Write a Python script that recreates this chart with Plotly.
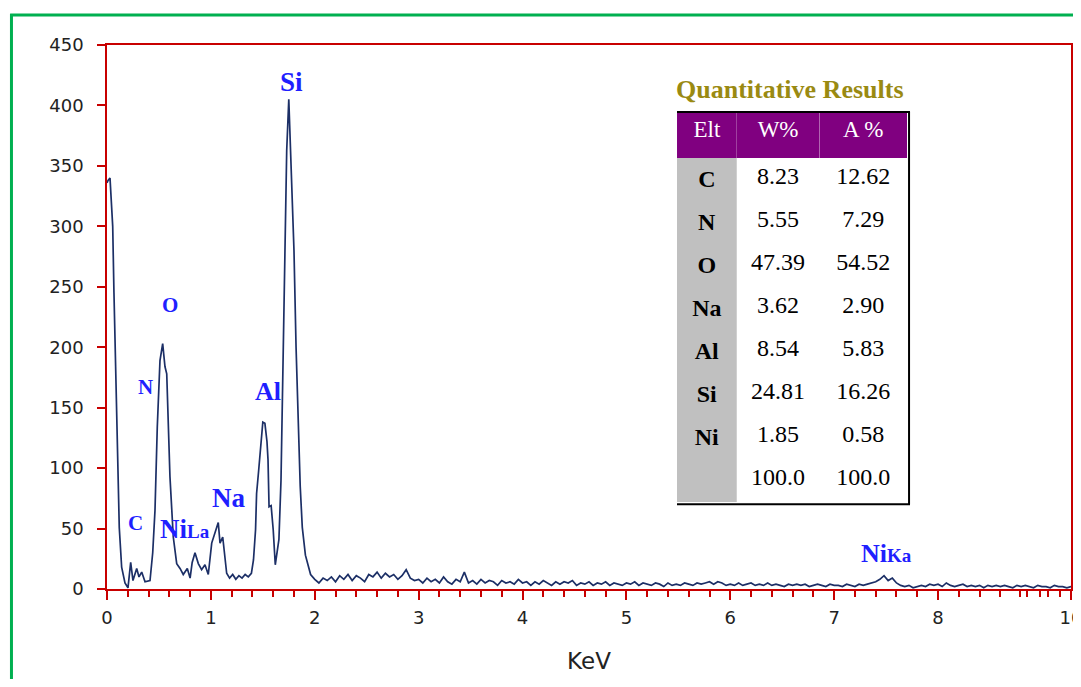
import plotly.graph_objects as go

# ---------------- data ----------------
PEAK_E = [0.00, 0.01, 0.029, 0.055, 0.067, 0.087, 0.099, 0.118, 0.141, 0.173,
          0.202, 0.228, 0.25, 0.286, 0.308, 0.334, 0.366, 0.414, 0.44, 0.462,
          0.484, 0.51, 0.536, 0.558, 0.575, 0.59, 0.606, 0.638, 0.671, 0.703,
          0.734, 0.773, 0.80, 0.82, 0.847, 0.879, 0.911, 0.943, 0.975, 1.008,
          1.04, 1.071, 1.088, 1.114, 1.152, 1.18, 1.21, 1.24, 1.27, 1.30,
          1.33, 1.36, 1.39, 1.41, 1.43, 1.44, 1.46, 1.48, 1.50, 1.52,
          1.54, 1.55, 1.56, 1.58, 1.60, 1.62, 1.635, 1.655, 1.675, 1.69,
          1.71, 1.73, 1.75, 1.76, 1.78, 1.80, 1.82, 1.84, 1.86, 1.88, 1.91]
PEAK_COUNTS = [336, 338, 340, 300, 245, 162, 107, 51, 18, 5,
               1, 22, 7, 17, 10, 14, 6, 7, 30, 65,
               134, 189, 203, 184, 178, 134, 93, 43, 21, 17,
               12, 17, 9, 22, 30, 21, 16, 20, 12, 38,
               46, 55, 38, 43, 13, 9, 12, 8, 11, 9,
               12, 10, 13, 24, 49, 79, 98, 122, 138, 137,
               122, 107, 68, 69, 49, 20, 28, 41, 90, 173,
               280, 363, 405, 379, 338, 280, 200, 134, 85, 51, 28]

NOISE_START = 1.96   # keV, first channel of the flat background part
NOISE_STEP = 0.04    # keV per channel
NOISE_COUNTS = [12, 8, 5, 9, 7, 10, 6, 11, 8, 12,
                7, 11, 9, 6, 12, 10, 14, 9, 13, 10,
                12, 8, 11, 16, 9, 7, 8, 5, 9, 6,
                8, 5, 10, 6, 4, 8, 6, 14, 5, 7,
                4, 8, 5, 7, 6, 3, 7, 5, 6, 4,
                8, 5, 6, 3, 6, 4, 7, 5, 3, 6,
                4, 6, 5, 7, 3, 5, 4, 6, 3, 5,
                4, 6, 3, 5, 4, 3, 5, 4, 6, 3,
                5, 4, 3, 5, 4, 2, 5, 3, 4, 3,
                5, 4, 3, 5, 4, 5, 6, 4, 6, 5,
                3, 4, 3, 5, 3, 4, 5, 3, 4, 3,
                5, 3, 4, 3, 2, 4, 3, 4, 3, 4,
                2, 3, 4, 3, 2, 4, 3, 3, 2, 4,
                3, 2, 4, 3, 4, 5, 6, 8, 11, 7,
                9, 5, 3, 2, 3, 1, 2, 3, 2, 4,
                3, 4, 2, 5, 3, 2, 3, 4, 2, 3,
                2, 3, 1, 3, 2, 3, 2, 3, 2, 1,
                3, 2, 3, 2, 1, 3, 2, 2, 1, 3,
                2, 2, 1, 2]

X_TICK_VALS = [0, 1, 2, 3, 4, 5, 6, 7, 8, 9.28]
X_TICK_TEXT = ["0", "1", "2", "3", "4", "5", "6", "7", "8", "10"]
X_MINOR_TICKS = [0.2, 0.4, 0.6, 0.8, 1.2, 1.4, 1.6, 1.8, 2.2, 2.4, 2.6, 2.8,
                 3.2, 3.4, 3.6, 3.8, 4.2, 4.4, 4.6, 4.8, 5.2, 5.4, 5.6, 5.8,
                 6.2, 6.4, 6.6, 6.8, 7.2, 7.4, 7.6, 7.8, 8.2, 8.4, 8.6,
                 8.79, 8.86, 8.98, 9.06, 9.17]
Y_MAX = 450
Y_STEP = 50

TABLE_TITLE = "Quantitative Results"
TABLE_HEADER = ["Elt", "W%", "A %"]
ELEMENTS = ["C", "N", "O", "Na", "Al", "Si", "Ni", ""]
WEIGHT_PCT = ["8.23", "5.55", "47.39", "3.62", "8.54", "24.81", "1.85", "100.0"]
ATOMIC_PCT = ["12.62", "7.29", "54.52", "2.90", "5.83", "16.26", "0.58", "100.0"]

# ---------------- figure ----------------
energy = PEAK_E + [round(NOISE_START + NOISE_STEP * i, 2) for i in range(len(NOISE_COUNTS))]
counts = PEAK_COUNTS + NOISE_COUNTS

RED = "#c80000"
BLUE = "#1f1fff"
SERIF = "Liberation Serif"
SANS = "DejaVu Sans"

fig = go.Figure()
fig.add_trace(go.Scatter(x=energy, y=counts, mode="lines",
                         line=dict(color="#1c2f66", width=1.7),
                         hoverinfo="skip", showlegend=False))

cells_elements = ["<b>%s</b>" % e for e in ELEMENTS]
fig.add_trace(go.Table(
    domain=dict(x=[0.5913, 0.8309], y=[0.158, 0.8768]),
    columnwidth=[60, 83, 88],
    header=dict(values=TABLE_HEADER, fill_color="#800080",
                font=dict(family=SERIF, size=23, color="white"),
                align="center", height=46, line=dict(width=0)),
    cells=dict(values=[cells_elements, WEIGHT_PCT, ATOMIC_PCT],
               fill_color=[["#c0c0c0"] * len(ELEMENTS), ["white"] * len(ELEMENTS),
                           ["white"] * len(ELEMENTS)],
               font=dict(family=SERIF, size=24, color="black"),
               align="center", height=43, line=dict(width=0)),
))

# peak labels
def lab(text, x, y, size):
    fig.add_annotation(x=x, y=y, xref="x", yref="y", text="<b>%s</b>" % text,
                       showarrow=False, font=dict(family=SERIF, size=size, color=BLUE))

lab("Si", 1.78, 419, 27)
lab("O", 0.606, 235, 21)
lab("N", 0.375, 167, 21)
lab("Al", 1.55, 163, 26)
lab("Na", 1.165, 75, 27)
lab("C", 0.27, 55, 21)
lab('Ni<span style="font-size:19px">La</span>', 0.75, 50, 27)
lab('Ni<span style="font-size:19px">Ka</span>', 7.50, 29, 26)

# table title
fig.add_annotation(x=0.7085, y=0.919, xref="paper", yref="paper", xanchor="center",
                   yanchor="middle", text="<b>%s</b>" % TABLE_TITLE, showarrow=False,
                   font=dict(family=SERIF, size=26, color="#9a8a12"))

# table border lines and green frame
shapes = [
    dict(type="line", xref="paper", yref="paper", x0=0.5913, x1=0.8330, y0=0.8768, y1=0.8768,
         line=dict(color="black", width=2)),
    dict(type="line", xref="paper", yref="paper", x0=0.8320, x1=0.8320, y0=0.156, y1=0.8768,
         line=dict(color="black", width=2)),
    dict(type="line", xref="paper", yref="paper", x0=0.5913, x1=0.8330, y0=0.156, y1=0.156,
         line=dict(color="black", width=2)),
    dict(type="line", xref="paper", yref="paper", x0=-0.0991, x1=-0.0991, y0=-0.25, y1=1.0570,
         line=dict(color="#00b050", width=3)),
    dict(type="line", xref="paper", yref="paper", x0=-0.1005, x1=1.05, y0=1.0551, y1=1.0551,
         line=dict(color="#00b050", width=3)),
]
fig.update_layout(shapes=shapes)

# page body has an 8px margin, so the figure is sized to fit the 1081x687 window exactly
fig.update_layout(
    width=1065, height=671,
    margin=dict(l=99, r=2, t=37, b=90, autoexpand=False),
    paper_bgcolor="white", plot_bgcolor="white",
    xaxis=dict(range=[0, 9.28], tickmode="array", tickvals=X_TICK_VALS, ticktext=X_TICK_TEXT,
               automargin=False,
               showgrid=False, zeroline=False, showline=True, linecolor=RED, linewidth=1.5,
               mirror=True, ticks="outside", ticklen=9, tickwidth=1.5, tickcolor=RED,
               ticklabelstandoff=3, ticklabeloverflow="allow",
               minor=dict(tickvals=X_MINOR_TICKS, ticks="outside", ticklen=6,
                          tickwidth=1.5, tickcolor=RED),
               tickfont=dict(family=SANS, size=18, color="#222222"),
               title=dict(text="KeV", font=dict(family=SANS, size=23, color="#222222"),
                          standoff=26)),
    yaxis=dict(range=[0, Y_MAX], dtick=Y_STEP, tick0=0, automargin=False,
               showgrid=False, zeroline=False, showline=True, linecolor=RED, linewidth=1.5,
               mirror=True, ticks="outside", ticklen=8, tickwidth=1.5, tickcolor=RED,
               ticklabelstandoff=10,
               tickfont=dict(family=SANS, size=18, color="#222222")),
)

fig.write_html("out.html")
